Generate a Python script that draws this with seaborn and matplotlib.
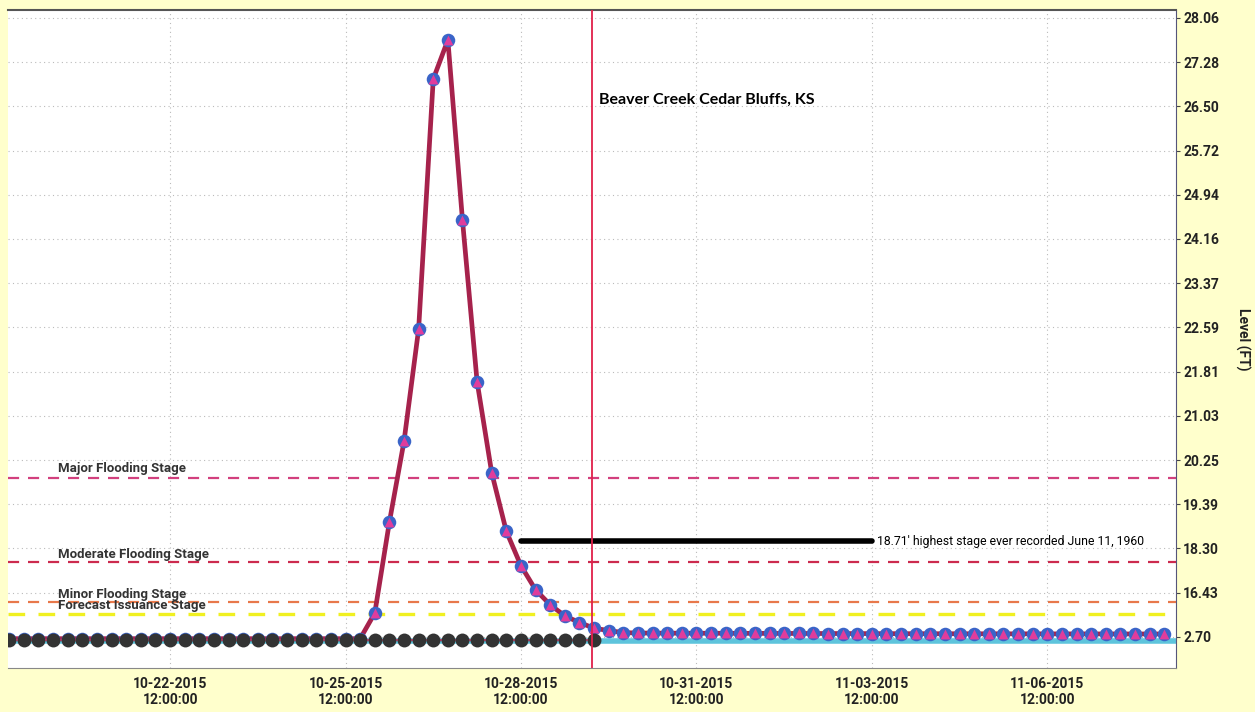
import numpy as np
import pandas as pd
import seaborn as sns
import matplotlib.pyplot as plt
import matplotlib.dates as mdates

# uneven level ticks used by the original hydrograph
level_ticks = [2.70, 16.43, 18.30, 19.39, 20.25, 21.03, 21.81, 22.59,
               23.37, 24.16, 24.94, 25.72, 26.50, 27.28, 28.06]

# observed stage, 6-hourly from 10-19 18:00 to 10-29 18:00
obs_levels = [2.62, 2.62, 2.62, 2.62, 2.62, 2.62, 2.62, 2.62, 2.62, 2.62,
              2.62, 2.62, 2.62, 2.62, 2.62, 2.62, 2.62, 2.62, 2.62, 2.62,
              2.62, 2.62, 2.62, 2.62, 2.62, 2.62, 2.62, 2.62, 2.62, 2.62,
              2.62, 2.62, 2.62, 2.62, 2.62, 2.62, 2.62, 2.62, 2.62, 2.62,
              2.62]

# forecast stage, 6-hourly from 10-19 18:00 to 11-08 12:00
fcst_levels = [2.66, 2.66, 2.66, 2.66, 2.66, 2.66, 2.66, 2.66, 2.66, 2.66,
               2.66, 2.66, 2.66, 2.66, 2.66, 2.66, 2.66, 2.66, 2.66, 2.66,
               2.66, 2.66, 2.66, 2.66, 2.66,
               10.08, 18.95, 20.58, 22.56, 26.98, 27.67, 24.49, 21.63, 20.00,
               18.72, 17.57, 16.55, 12.66, 9.24, 7.15, 5.41, 4.66, 4.04,
               3.90, 3.88, 3.86, 3.85, 3.84, 3.83, 3.82, 3.81, 3.80, 3.79,
               3.78, 3.77, 3.76, 3.75, 3.74, 3.73, 3.72, 3.71, 3.70, 3.70,
               3.69, 3.68, 3.68, 3.67, 3.66, 3.66, 3.65, 3.65, 3.64, 3.64,
               3.63, 3.63, 3.62, 3.62, 3.61, 3.61, 3.60]

base_levels = [2.60, 2.60]
base_times = ["2015-10-19 17:00", "2015-11-08 17:00"]

stage_names = ["Major Flooding Stage", "Moderate Flooding Stage",
               "Minor Flooding Stage", "Forecast Issuance Stage"]
stage_levels = [19.90, 17.71, 13.68, 9.95]
stage_colors = ["#d2407e", "#cc2a4e", "#e8784a", "#f0f020"]
label_levels = [19.96, 17.78, 13.95, 10.3]

record_level = 18.48
record_times = ["2015-10-28 12:00", "2015-11-03 12:00"]
now_time = "2015-10-29 17:00"
tick_dates = ["2015-10-22 12:00", "2015-10-25 12:00", "2015-10-28 12:00",
              "2015-10-31 12:00", "2015-11-03 12:00", "2015-11-06 12:00"]

obs = pd.DataFrame({"time": pd.date_range("2015-10-19 18:00", periods=len(obs_levels), freq="6h"),
                    "level": obs_levels})
fcst = pd.DataFrame({"time": pd.date_range("2015-10-19 18:00", periods=len(fcst_levels), freq="6h"),
                     "level": fcst_levels})
base = pd.DataFrame({"time": pd.to_datetime(base_times), "level": base_levels})

sns.set_style("white")
plt.rcParams["font.family"] = ["Roboto", "DejaVu Sans"]

# piecewise scale: every tick is one equal step
pos = np.arange(-1, len(level_ticks) + 1, dtype=float)
vals = np.array([1.70] + level_ticks + [28.84])


def fwd(v):
    return np.interp(v, vals, pos)


def inv(p):
    return np.interp(p, pos, vals)


fig = plt.figure(figsize=(12.55, 7.12), dpi=100, facecolor="#ffffcc")
ax = fig.add_axes([0.0064, 0.062, 0.9307, 0.924])
ax.set_facecolor("white")
ax.set_yscale("function", functions=(fwd, inv))

sns.lineplot(data=base, x="time", y="level", ax=ax, color="#5ec4dc", lw=4, zorder=2)
sns.lineplot(data=fcst, x="time", y="level", ax=ax, color="#a6224c", lw=3.4, zorder=3)
sns.scatterplot(data=fcst, x="time", y="level", ax=ax, color="#3a64c8", s=95,
                marker="o", linewidth=0, zorder=4)
sns.scatterplot(data=fcst, x="time", y="level", ax=ax, color="#e03c9c", s=50,
                marker="^", linewidth=0, zorder=5)
sns.lineplot(data=obs, x="time", y="level", ax=ax, color="#e0407a", lw=1.5, zorder=5)
sns.scatterplot(data=obs, x="time", y="level", ax=ax, color="#333333", s=100,
                marker="o", linewidth=0, zorder=6)

for lev, col in zip(stage_levels, stage_colors):
    ax.axhline(lev, color=col, lw=1.6 if col != "#f0f020" else 2.4, ls=(0, (5, 4)), zorder=1)

for name, lev in zip(stage_names, label_levels):
    ax.text(pd.Timestamp("2015-10-20 14:00"), lev, name, fontsize=9.5,
            fontweight="bold", color="#333333", va="bottom")

ax.plot(pd.to_datetime(record_times), [record_level, record_level], color="black",
        lw=4, solid_capstyle="round", zorder=7)
ax.text(pd.Timestamp("2015-11-03 14:00"), record_level, "18.71' highest stage ever recorded June 11, 1960",
        fontsize=8.8, color="black", va="center", family=["Roboto", "DejaVu Sans"])

ax.axvline(pd.Timestamp(now_time), color="#e0204a", lw=1.3, zorder=8)
ax.text(pd.Timestamp("2015-10-29 20:00"), 26.62, "Beaver Creek Cedar Bluffs, KS",
        fontsize=11.5, fontweight="bold", color="black", va="center", family=["Lato", "DejaVu Sans"])

ax.set_xlim(pd.Timestamp("2015-10-19 17:30"), pd.Timestamp("2015-11-08 16:50"))
ax.set_ylim(2.00, 28.20)

ax.set_xticks(pd.to_datetime(tick_dates))
ax.xaxis.set_major_formatter(mdates.DateFormatter("%m-%d-%Y\n%H:%M:%S"))
ax.set_yticks(level_ticks)
ax.set_yticklabels([f"{v:.2f}" for v in level_ticks])
ax.minorticks_off()
ax.yaxis.tick_right()
ax.yaxis.set_label_position("right")
ax.tick_params(axis="both", direction="out", length=3, width=0.8, color="#444444",
               labelsize=10, labelcolor="#222222")
ax.tick_params(axis="y", pad=2)
for lab in ax.get_xticklabels() + ax.get_yticklabels():
    lab.set_fontweight("bold")

ax.grid(True, color="#bbbbbb", ls=(0, (1, 3)), lw=0.8)
ax.set_xlabel("")
ax.set_ylabel("Level (FT)", rotation=270, fontsize=10, fontweight="bold",
              color="#222222", labelpad=22)

ax.spines["left"].set_visible(False)
ax.spines["top"].set_color("#555555")
ax.spines["top"].set_linewidth(1.5)
ax.spines["right"].set_color("#55557a")
ax.spines["bottom"].set_color("#888888")

fig.savefig("out.png", dpi=100, facecolor=fig.get_facecolor())
